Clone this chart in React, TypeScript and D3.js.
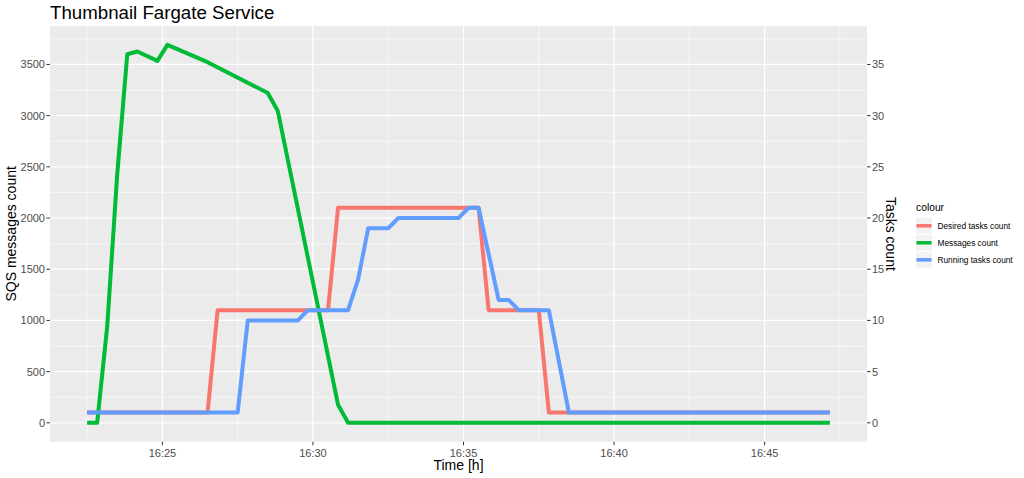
import React from "react";
import * as d3 from "d3";

// ---- data (time "HH:MM:SS" on 2019-01-01 UTC) ----
const messagesTimes = ["16:22:30","16:22:50","16:23:10","16:23:30","16:23:50","16:24:10","16:24:50","16:25:10","16:26:30","16:28:30","16:28:50","16:30:50","16:31:10","16:47:10"];
const messagesValues = [0, 0, 940, 2430, 3600, 3626, 3535, 3691, 3522, 3222, 3045, 176, 0, 0];

const desiredTimes = ["16:22:30","16:26:30","16:26:50","16:30:30","16:30:50","16:35:30","16:35:50","16:37:30","16:37:50","16:47:10"];
const desiredValues = [1, 1, 11, 11, 21, 21, 11, 11, 1, 1];

const runningTimes = ["16:22:30","16:27:30","16:27:50","16:29:30","16:29:50","16:31:10","16:31:30","16:31:50","16:32:30","16:32:50","16:34:50","16:35:10","16:35:30","16:36:10","16:36:30","16:36:50","16:37:50","16:38:30","16:47:10"];
const runningValues = [1, 1, 10, 10, 11, 11, 14, 19, 19, 20, 20, 21, 21, 12, 12, 11, 11, 1, 1];

const seriesNames = ["Desired tasks count", "Messages count", "Running tasks count"];
const seriesColors = ["#F8766D", "#00BA38", "#619CFF"];

const xMajorTicks = ["16:25:00","16:30:00","16:35:00","16:40:00","16:45:00"];
const xMinorTicks = ["16:22:30","16:27:30","16:32:30","16:37:30","16:42:30","16:47:30"];
const yLeftTicks = [0, 500, 1000, 1500, 2000, 2500, 3000, 3500];
const yMinorTicks = [250, 750, 1250, 1750, 2250, 2750, 3250, 3750];
const yRightTicks = [0, 5, 10, 15, 20, 25, 30, 35];
const TASK_SCALE = 100;

const parseT = (s: string) => {
  const [h, m, sec] = s.split(":").map(Number);
  return new Date(Date.UTC(2019, 0, 1, h, m, sec));
};

const FONT = "'Liberation Sans', Arial, Helvetica, sans-serif";

export default function App() {
  const W = 1024, H = 478;
  const pL = 50, pR = 867, pT = 26, pB = 441.7;

  const msgs = messagesTimes.map((t, i) => ({ t: parseT(t), v: messagesValues[i] }));
  const des = desiredTimes.map((t, i) => ({ t: parseT(t), v: desiredValues[i] * TASK_SCALE }));
  const run = runningTimes.map((t, i) => ({ t: parseT(t), v: runningValues[i] * TASK_SCALE }));
  const all = [...msgs, ...des, ...run];

  const [t0, t1] = d3.extent(all, (d) => d.t.getTime()) as [number, number];
  const tPad = (t1 - t0) * 0.05;
  const x = d3.scaleUtc().domain([new Date(t0 - tPad), new Date(t1 + tPad)]).range([pL, pR]);

  const vMax = d3.max(all, (d) => d.v) as number;
  const vMin = 0;
  const vPad = (vMax - vMin) * 0.05;
  const y = d3.scaleLinear().domain([vMin - vPad, vMax + vPad]).range([pB, pT]);

  const line = d3.line<{ t: Date; v: number }>().x((d) => x(d.t)).y((d) => y(d.v));
  const fmt = d3.utcFormat("%H:%M");

  const series = [des, msgs, run];

  const legendX = 915.5, legendTop = 217.3, keyW = 17, keyH = 17;

  return (
    <svg width={W} height={H} style={{ position: "absolute", left: 0, top: 0, background: "#fff" }} fontFamily={FONT}>
      <rect x={0} y={0} width={W} height={H} fill="#fff" />
      {/* panel */}
      <rect x={pL} y={pT} width={pR - pL} height={pB - pT} fill="#EBEBEB" />
      {yMinorTicks.map((v) => (
        <line key={"ym" + v} x1={pL} x2={pR} y1={y(v)} y2={y(v)} stroke="#fff" strokeWidth={0.6} />
      ))}
      {xMinorTicks.map((t) => (
        <line key={"xm" + t} x1={x(parseT(t))} x2={x(parseT(t))} y1={pT} y2={pB} stroke="#fff" strokeWidth={0.6} />
      ))}
      {yLeftTicks.map((v) => (
        <line key={"yM" + v} x1={pL} x2={pR} y1={y(v)} y2={y(v)} stroke="#fff" strokeWidth={1.2} />
      ))}
      {xMajorTicks.map((t) => (
        <line key={"xM" + t} x1={x(parseT(t))} x2={x(parseT(t))} y1={pT} y2={pB} stroke="#fff" strokeWidth={1.2} />
      ))}
      {/* lines */}
      {series.map((s, i) => (
        <path key={seriesNames[i]} d={line(s) || ""} fill="none" stroke={seriesColors[i]} strokeWidth={4} strokeLinejoin="round" strokeLinecap="butt" />
      ))}
      {/* left axis */}
      {yLeftTicks.map((v) => (
        <g key={"yl" + v}>
          <line x1={pL - 3.6} x2={pL} y1={y(v)} y2={y(v)} stroke="#333" strokeWidth={1} />
          <text x={pL - 5} y={y(v)} dy="0.36em" textAnchor="end" fontSize={11} fill="#4D4D4D">{v}</text>
        </g>
      ))}
      {/* right axis */}
      {yRightTicks.map((v) => (
        <g key={"yr" + v}>
          <line x1={pR} x2={pR + 3.6} y1={y(v * TASK_SCALE)} y2={y(v * TASK_SCALE)} stroke="#333" strokeWidth={1} />
          <text x={pR + 5} y={y(v * TASK_SCALE)} dy="0.36em" textAnchor="start" fontSize={11} fill="#4D4D4D">{v}</text>
        </g>
      ))}
      {/* x axis */}
      {xMajorTicks.map((t) => (
        <g key={"xt" + t}>
          <line x1={x(parseT(t))} x2={x(parseT(t))} y1={pB} y2={pB + 3.6} stroke="#333" strokeWidth={1} />
          <text x={x(parseT(t))} y={456.5} textAnchor="middle" fontSize={11} fill="#4D4D4D">{fmt(parseT(t))}</text>
        </g>
      ))}
      {/* titles */}
      <text x={50} y={18.5} fontSize={18.7} fill="#000">Thumbnail Fargate Service</text>
      <text x={(pL + pR) / 2} y={470} textAnchor="middle" fontSize={14} fill="#000">Time [h]</text>
      <text transform={`translate(16,${(pT + pB) / 2}) rotate(-90)`} textAnchor="middle" fontSize={14} fill="#000">SQS messages count</text>
      <text transform={`translate(886,${(pT + pB) / 2}) rotate(90)`} textAnchor="middle" fontSize={14} fill="#000">Tasks count</text>
      {/* legend */}
      <text x={916} y={210.7} fontSize={10.3} fill="#000">colour</text>
      {seriesNames.map((n, i) => {
        const ky = legendTop + i * keyH;
        return (
          <g key={"lg" + n}>
            <rect x={legendX} y={ky} width={keyW} height={keyH} fill="#F2F2F2" stroke="#fff" strokeWidth={1} />
            <line x1={legendX + 1} x2={legendX + keyW - 1} y1={ky + keyH / 2} y2={ky + keyH / 2} stroke={seriesColors[i]} strokeWidth={3.5} />
            <text x={937.5} y={ky + keyH / 2} dy="0.36em" fontSize={8.3} fill="#000">{n}</text>
          </g>
        );
      })}
    </svg>
  );
}
